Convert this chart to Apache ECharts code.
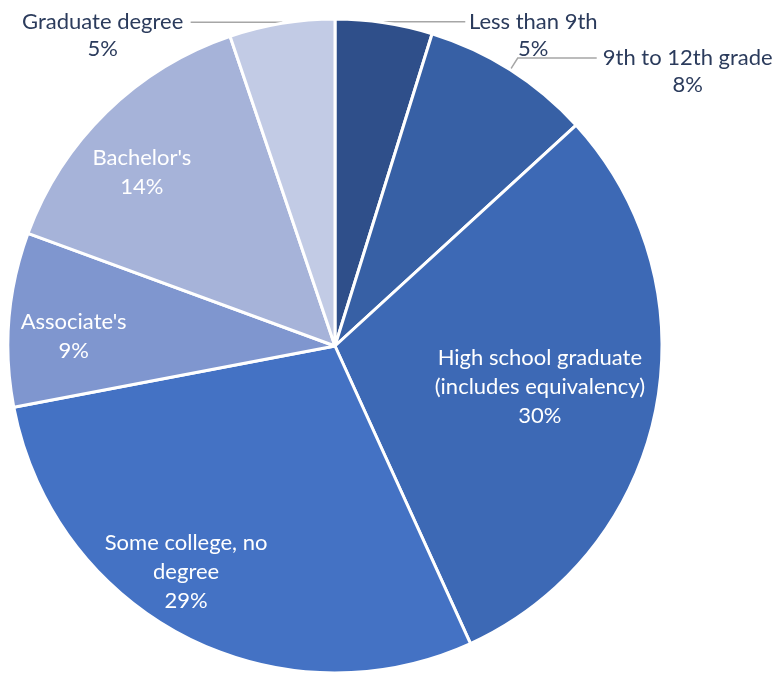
<!DOCTYPE html>
<html><head><meta charset="utf-8">
<script src="https://cdn.jsdelivr.net/npm/echarts@6/dist/echarts.min.js"></script>
<style>html,body{margin:0;padding:0;background:#fff}#c{width:781px;height:676px}</style>
</head><body><div id="c"></div>
<script>
// ---- data ----
const categories = ["Less than 9th", "9th to 12th grade", "High school graduate\n(includes equivalency)", "Some college, no\ndegree", "Associate's", "Bachelor's", "Graduate degree"];
const shares = [4.8, 8.4, 30.0, 28.8, 8.6, 14.2, 5.2];
const colors = ['#2F4F8A', '#3760A5', '#3D69B5', '#4472C4', '#7F96CF', '#A6B3D9', '#C2CBE5'];

// ---- layout / style config ----
const CX = 335, CY = 346, R = 327;
const FONT = 'Lato', FS = 22, LH = 29, LH_OUT = 27;
const outsideCfg = { 0: {len: 1, len2: 81, w: 126}, 1: {len: 14, len2: 79, w: 172}, 6: {len: 1, len2: 91, w: 166} };
const insideCfg = { 2: {f: 0.639, da: -0.2}, 3: {f: 0.828, da: 6.0}, 4: {f: 0.80, da: -2.5}, 5: {f: 0.795, da: -3.7} };

const total = shares.reduce((a, b) => a + b, 0);
const midAngles = [];
let cum = 0;
shares.forEach(v => { midAngles.push((cum + v / 2) / total * 360); cum += v; });

const data = categories.map((name, i) => {
  const item = { name: name, value: shares[i], itemStyle: { color: colors[i] } };
  const o = outsideCfg[i];
  if (o) {
    item.label = { position: 'outside', width: o.w, overflow: 'none', color: '#2B3B5C', padding: [LH_OUT, 0, 0, 0],
      rich: { t: { fontFamily: FONT, fontSize: FS, lineHeight: LH_OUT, color: '#2B3B5C', align: 'center' } } };
    item.labelLine = { show: true, length: o.len, length2: o.len2, lineStyle: { color: '#A6A6A6', width: 1.5 } };
  } else {
    item.label = { position: 'inside', color: '#ffffff',
      rich: { t: { fontFamily: FONT, fontSize: FS, lineHeight: LH, color: '#ffffff', align: 'center' } } };
    item.labelLine = { show: false };
  }
  return item;
});

const chart = echarts.init(document.getElementById('c'), null, { renderer: 'canvas' });
chart.setOption({
  animation: false,
  backgroundColor: '#ffffff',
  series: [{
    type: 'pie',
    center: [CX, CY],
    radius: R,
    startAngle: 90,
    clockwise: true,
    avoidLabelOverlap: false,
    itemStyle: { borderColor: '#ffffff', borderWidth: 3 },
    emphasis: { disabled: true },
    label: {
      show: true,
      fontFamily: FONT, fontSize: FS, lineHeight: LH,
      bleedMargin: 0,
      distanceToLabelLine: 5,
      formatter: function (p) {
        return p.name.split('\n').map(s => '{t|' + s + '}').join('\n') + '\n{t|' + Math.round(p.percent) + '%}';
      }
    },
    labelLayout: function (params) {
      const c = insideCfg[params.dataIndex];
      if (!c) return {};
      const a = (midAngles[params.dataIndex] + c.da) * Math.PI / 180;
      return { x: CX + R * c.f * Math.sin(a), y: CY - R * c.f * Math.cos(a), align: 'center', verticalAlign: 'middle' };
    },
    data: data
  }]
});
</script></body></html>
